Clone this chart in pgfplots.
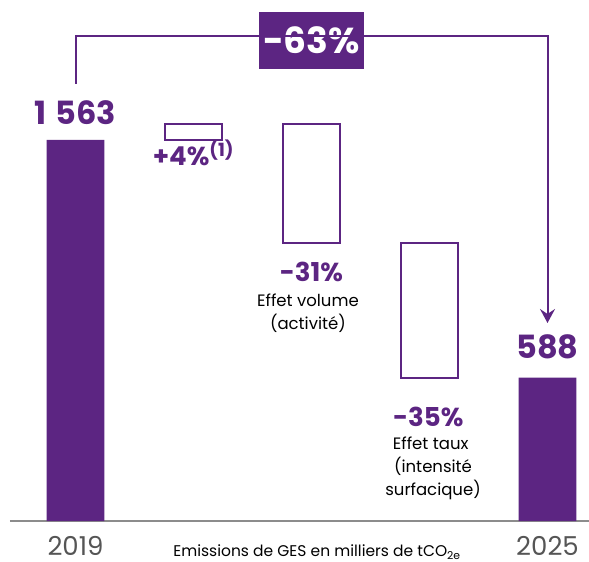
\documentclass[border=0pt]{standalone}
\usepackage{pgfplots}
\pgfplotsset{compat=1.18}
\usepackage{fontspec}
\setmainfont{Poppins}
\usetikzlibrary{arrows.meta}
\definecolor{purp}{RGB}{92,37,130}
\definecolor{axgray}{RGB}{140,140,140}
\definecolor{yrgray}{RGB}{85,85,85}
\begin{document}
\begin{tikzpicture}
\useasboundingbox (0,0) rectangle (589pt,562pt);
\begin{axis}[
  at={(10pt,41pt)}, anchor=south west,
  scale only axis, width=579pt, height=521pt,
  xmin=-0.5551, xmax=4.3517, ymin=0, ymax=2136.1,
  axis y line=none, axis x line*=bottom,
  axis line style={axgray, line width=2pt},
  xtick={0,4}, xticklabels={2019,2025},
  major tick length=0pt,
  xticklabel style={anchor=base, inner sep=0pt, yshift=-34pt, font=\fontsize{26}{26}\selectfont, text=yrgray},
  ytick=\empty,
  ybar stacked, bar width=0.49,
  clip=false,
]
% invisible base of the floating boxes
\addplot[draw=none, fill=none] coordinates {(0,0) (1,1563) (2,1141) (3,588) (4,0)};
% filled totals
\addplot[draw=none, fill=purp] coordinates {(0,1563) (1,0) (2,0) (3,0) (4,588)};
% outlined variations
\addplot[draw=purp, line width=2pt, fill=white] coordinates {(0,0) (1,63) (2,485) (3,553) (4,0)};

% bracket with arrow
\draw[purp, line width=2pt, -{Stealth[length=14pt,width=15pt,inset=5pt]}]
  (axis cs:0,1791.7) |- (axis cs:4,1988.5) -- (axis cs:4,811.8);
\node[fill=purp, text=white, minimum width=105pt, minimum height=57pt, inner sep=0pt,
  font=\fontsize{36}{36}\selectfont\bfseries] at (axis cs:2,1970) {-63\%};

% value labels
\node[anchor=base, text=purp, font=\fontsize{32}{32}\selectfont\bfseries, yshift=15pt] at (axis cs:0,1563) {1\hspace{0.28em}563};
\node[anchor=base, text=purp, font=\fontsize{32}{32}\selectfont\bfseries, yshift=19pt] at (axis cs:4,588) {588};
\node[anchor=base, text=purp, font=\fontsize{26}{26}\selectfont\bfseries] at (axis cs:1,1455.5) {+4\%\textsuperscript{(1)}};

\node[anchor=base, text=purp, font=\fontsize{26}{26}\selectfont\bfseries] at (axis cs:2,979.9) {-31\%};
\node[anchor=base, font=\fontsize{16.5}{16.5}\selectfont] at (axis cs:1.97,877.4) {Effet volume};
\node[anchor=base, font=\fontsize{16.5}{16.5}\selectfont] at (axis cs:1.97,783.1) {(activité)};

\node[anchor=base, text=purp, font=\fontsize{26}{26}\selectfont\bfseries] at (axis cs:2.99,385.4) {-35\%};
\node[anchor=base, font=\fontsize{16.5}{16.5}\selectfont] at (axis cs:3.01,291.1) {Effet taux};
\node[anchor=base, font=\fontsize{16.5}{16.5}\selectfont] at (axis cs:3.03,196.8) {(intensité};
\node[anchor=base, font=\fontsize{16.5}{16.5}\selectfont] at (axis cs:3.03,102.5) {surfacique)};

\node[anchor=base, inner sep=0pt, font=\fontsize{15.5}{15.5}\selectfont, yshift=-35pt] at (axis cs:2.047,0) {Emissions de GES en milliers de tCO\textsubscript{2e}};
\end{axis}
\end{tikzpicture}
\end{document}
